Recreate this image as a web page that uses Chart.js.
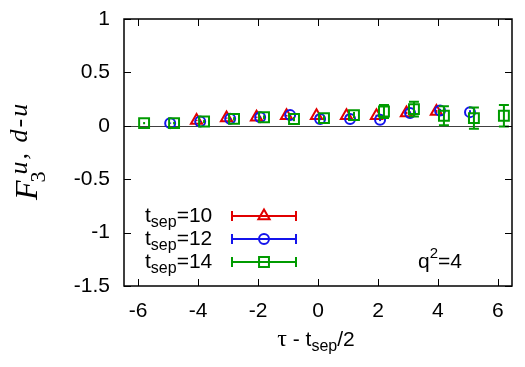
<!DOCTYPE html>
<html>
<head>
<meta charset="utf-8">
<script src="https://cdn.jsdelivr.net/npm/chart.js@4/dist/chart.umd.min.js"></script>
<style>
html,body{margin:0;padding:0;background:#fff;}
#wrap{width:525px;height:367px;}
</style>
</head>
<body>
<div id="wrap"><canvas id="c" width="525" height="367"></canvas></div>
<script>
// ---- data ----
const seriesNames = ["10", "12", "14"];
const tau10 = [-4, -3, -2, -1, 0, 1, 2, 3, 4];
const f10   = [0.050, 0.072, 0.080, 0.094, 0.094, 0.094, 0.094, 0.120, 0.134];
const e10   = [0.006, 0.006, 0.006, 0.008, 0.008, 0.008, 0.010, 0.012, 0.014];
const tau12 = [-5, -4, -3, -2, -1, 0, 1, 2, 3, 4, 5];
const f12   = [0.025, 0.040, 0.065, 0.080, 0.100, 0.063, 0.063, 0.056, 0.120, 0.143, 0.128];
const e12   = [0.006, 0.006, 0.008, 0.008, 0.010, 0.010, 0.010, 0.012, 0.014, 0.016, 0.018];
const tau14 = [-6, -5, -4, -3, -2, -1, 0, 1, 2, 3, 4, 5, 6];
const f14   = [0.025, 0.025, 0.040, 0.065, 0.080, 0.063, 0.072, 0.100, 0.134, 0.156, 0.094, 0.072, 0.094];
const e14   = [0.010, 0.012, 0.014, 0.016, 0.018, 0.020, 0.022, 0.030, 0.060, 0.070, 0.090, 0.100, 0.100];
const shift = [-0.05, 0.07, 0.2];   // horizontal offsets of the three series
const xTicks = [-6, -4, -2, 0, 2, 4, 6];
const yTicks = [-1.5, -1, -0.5, 0, 0.5, 1];

const colors = ["rgb(225,0,0)", "rgb(20,20,235)", "rgb(0,155,0)"];
const styles = ["triangle", "circle", "rect"];
const radii = [6.5, 5, 7];

function mk(taus, vals, errs, k) {
  return taus.map((t, i) => ({x: t + shift[k], y: vals[i], e: errs[i]}));
}
const sets = [mk(tau10, f10, e10, 0), mk(tau12, f12, e12, 1), mk(tau14, f14, e14, 2)];

const sansFont = "'Liberation Sans', Arial, sans-serif";
const serifFont = "'Liberation Serif', 'Times New Roman', serif";

function drawRich(ctx, x, y, parts, align) {
  let total = 0;
  parts.forEach(p => { ctx.font = (p[4]||'') + ' ' + p[1] + 'px ' + (p[3]||sansFont); total += ctx.measureText(p[0]).width; });
  let cx = align === 'center' ? x - total/2 : x;
  parts.forEach(p => {
    ctx.font = (p[4]||'') + ' ' + p[1] + 'px ' + (p[3]||sansFont);
    ctx.fillText(p[0], cx, y + (p[2]||0));
    cx += ctx.measureText(p[0]).width;
  });
}

const decor = {
  id: 'decor',
  beforeDatasetsDraw(chart) {
    const {ctx, chartArea: a, scales: {x, y}} = chart;
    ctx.save();
    ctx.strokeStyle = '#404040';
    ctx.lineWidth = 1;
    const y0 = Math.round(y.getPixelForValue(0)) + 0.5;
    ctx.beginPath(); ctx.moveTo(a.left, y0); ctx.lineTo(a.right, y0); ctx.stroke();
    ctx.restore();
  },
  afterDatasetDraw(chart, args) {
    const {ctx, scales: {x, y}} = chart;
    const k = args.index;
    const ds = chart.data.datasets[k];
    ctx.save();
    ctx.strokeStyle = ds.borderColor;
    ctx.lineWidth = 2;
    ds.data.forEach(p => {
      const px = x.getPixelForValue(p.x);
      const pt = y.getPixelForValue(p.y + p.e);
      const pb = y.getPixelForValue(p.y - p.e);
      ctx.beginPath();
      ctx.moveTo(px, pt); ctx.lineTo(px, pb);
      if (pb - pt > 8) {
        ctx.moveTo(px - 5, pt); ctx.lineTo(px + 5, pt);
        ctx.moveTo(px - 5, pb); ctx.lineTo(px + 5, pb);
      }
      ctx.stroke();
    });
    ctx.restore();
  },
  afterDraw(chart) {
    const {ctx, chartArea: a, scales: {x, y}} = chart;
    ctx.save();
    ctx.strokeStyle = '#000';
    ctx.lineWidth = 1;
    const tl = 7;
    ctx.beginPath();
    xTicks.forEach(v => {
      const px = Math.round(x.getPixelForValue(v)) + 0.5;
      ctx.moveTo(px, a.bottom); ctx.lineTo(px, a.bottom - tl);
      ctx.moveTo(px, a.top); ctx.lineTo(px, a.top + tl);
    });
    yTicks.forEach(v => {
      const py = Math.round(y.getPixelForValue(v)) + 0.5;
      ctx.moveTo(a.left, py); ctx.lineTo(a.left + tl, py);
      ctx.moveTo(a.right, py); ctx.lineTo(a.right - tl, py);
    });
    ctx.stroke();
    ctx.strokeStyle = '#000';
    ctx.lineWidth = 1.5;
    ctx.strokeRect(a.left, a.top, a.right - a.left, a.bottom - a.top);

    ctx.fillStyle = '#000';
    ctx.textBaseline = 'alphabetic';
    drawRich(ctx, 316, 346, [["\u03c4", 24, 0, serifFont], [" - t", 21], ["sep", 16, 5], ["/2", 21]], 'center');
    drawRich(ctx, 418, 268, [["q", 21], ["2", 15, -10], ["=4", 21]], 'left');
    const rowsY = [216, 239, 262];
    seriesNames.forEach((nm, k) => {
      const ly = rowsY[k];
      ctx.fillStyle = '#000';
      drawRich(ctx, 145, ly + 6, [["t", 21], ["sep", 16, 5], ["=" + nm, 21]], 'left');
      ctx.strokeStyle = colors[k];
      ctx.fillStyle = 'rgba(0,0,0,0)';
      ctx.lineWidth = 2;
      ctx.beginPath();
      ctx.moveTo(232, ly); ctx.lineTo(296, ly);
      ctx.moveTo(232, ly - 5); ctx.lineTo(232, ly + 5);
      ctx.moveTo(296, ly - 5); ctx.lineTo(296, ly + 5);
      ctx.stroke();
      Chart.helpers.drawPoint(ctx, {pointStyle: styles[k], radius: radii[k], borderWidth: 2}, 264, ly);
    });
    ctx.save();
    ctx.translate(37, 200);
    ctx.rotate(-Math.PI / 2);
    ctx.fillStyle = '#000';
    ctx.font = 'italic 32px ' + serifFont;
    ctx.fillText('F', 0, 0);
    const fw = ctx.measureText('F').width;
    ctx.font = '22px ' + serifFont;
    ctx.fillText('3', fw - 2, 8);
    ctx.font = 'italic 26px ' + serifFont;
    ctx.letterSpacing = '2px';
    ctx.fillText('u, d-u', fw + 6, -10);
    ctx.restore();
    ctx.restore();
  }
};

new Chart(document.getElementById('c'), {
  type: 'scatter',
  data: {
    datasets: sets.map((d, k) => ({
      label: 't_sep=' + seriesNames[k],
      data: d,
      borderColor: colors[k],
      backgroundColor: 'rgba(0,0,0,0)',
      pointStyle: styles[k],
      pointRadius: radii[k],
      pointHoverRadius: radii[k],
      pointBorderWidth: 2,
      showLine: false,
      order: 3 - k
    }))
  },
  options: {
    responsive: false,
    devicePixelRatio: 1,
    animation: false,
    events: [],
    layout: {padding: {top: 19, right: 13, left: 0, bottom: 0}},
    plugins: {legend: {display: false}, tooltip: {enabled: false}},
    scales: {
      x: {
        type: 'linear', min: -6.47, max: 6.47,
        grid: {display: false, drawTicks: false},
        border: {display: false},
        afterBuildTicks: s => { s.ticks = xTicks.map(v => ({value: v})); },
        afterFit: s => { s.height = 81; s.paddingLeft = 0; s.paddingRight = 0; },
        ticks: {font: {family: sansFont, size: 21}, color: '#000', padding: 13, maxRotation: 0}
      },
      y: {
        type: 'linear', min: -1.5, max: 1,
        grid: {display: false, drawTicks: false},
        border: {display: false},
        afterBuildTicks: s => { s.ticks = yTicks.map(v => ({value: v})); },
        afterFit: s => { s.width = 124; s.paddingTop = 0; s.paddingBottom = 0; },
        ticks: {font: {family: sansFont, size: 21}, color: '#000', padding: 14, callback: v => String(v)}
      }
    }
  },
  plugins: [decor]
});
</script>
</body>
</html>
